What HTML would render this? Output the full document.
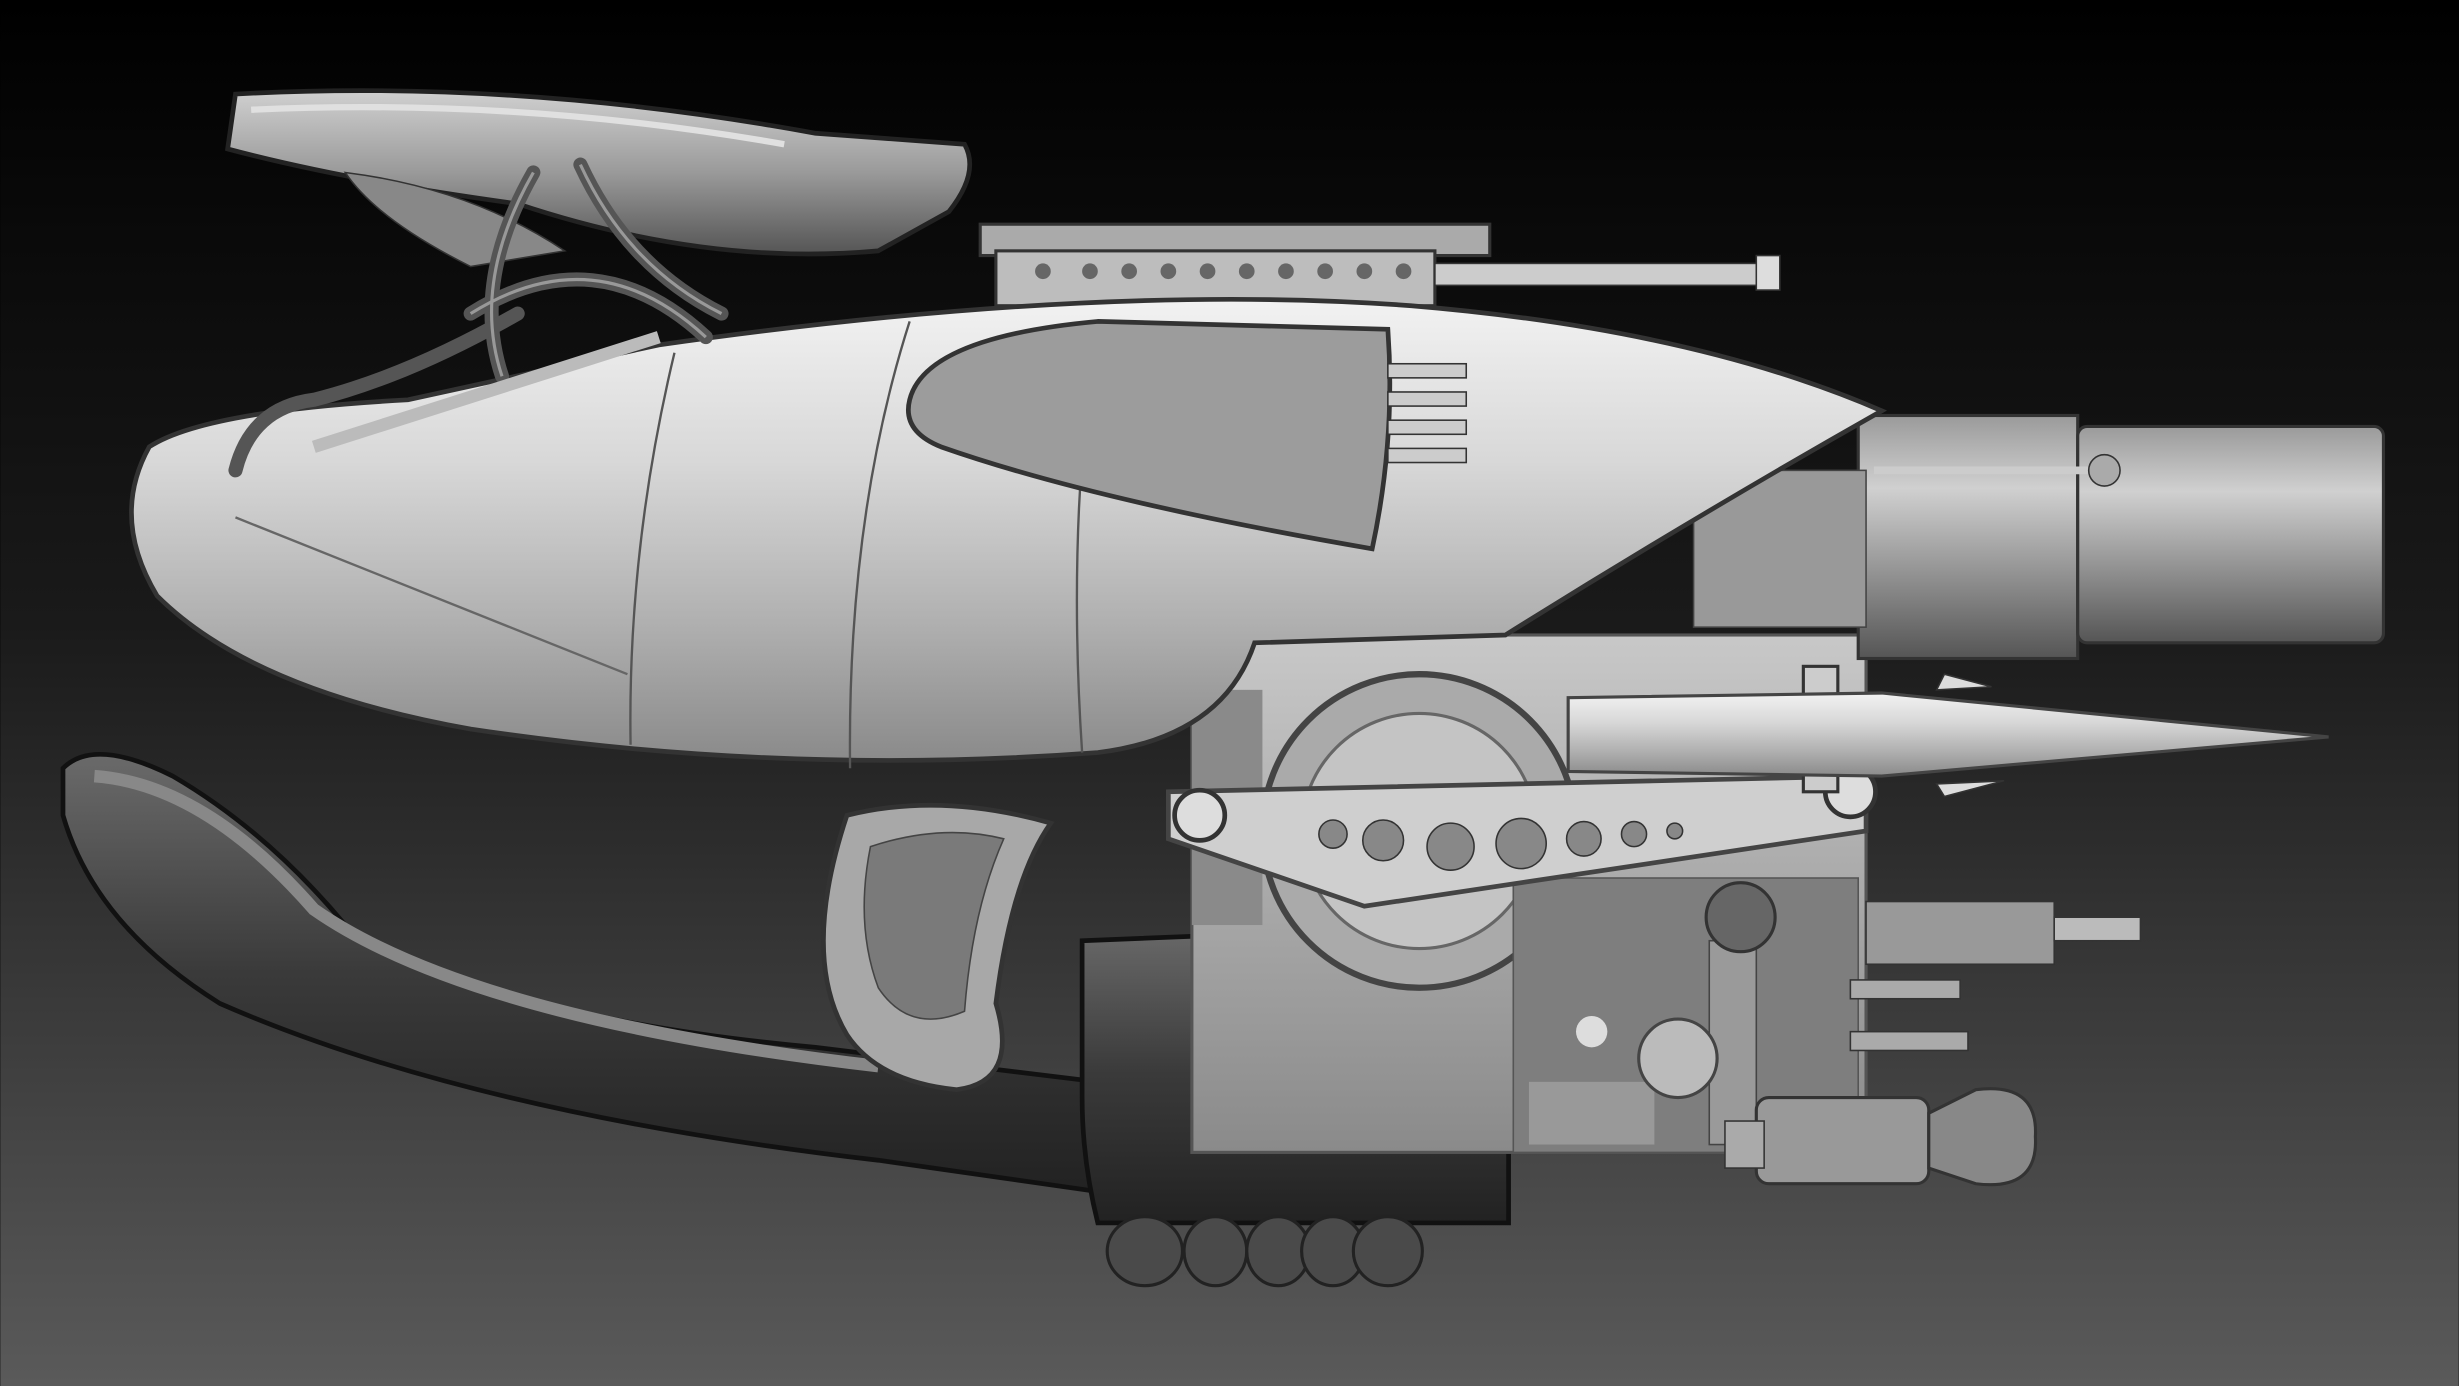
<!DOCTYPE html>
<html><head><meta charset="utf-8"><style>
html,body{margin:0;padding:0;background:#000;}
svg{display:block;}
</style></head><body>
<svg width="2459" height="1386" viewBox="0 0 1568 884" xmlns="http://www.w3.org/2000/svg">
<defs>
<linearGradient id="bg" x1="0" y1="0" x2="0" y2="1">
<stop offset="0" stop-color="#000"/><stop offset="0.45" stop-color="#1a1a1a"/><stop offset="1" stop-color="#5a5a5a"/></linearGradient>
<linearGradient id="body" x1="0" y1="0" x2="0" y2="1">
<stop offset="0" stop-color="#f2f2f2"/><stop offset="0.35" stop-color="#d8d8d8"/><stop offset="0.7" stop-color="#b0b0b0"/><stop offset="1" stop-color="#8a8a8a"/></linearGradient>
<linearGradient id="cyl" x1="0" y1="0" x2="0" y2="1">
<stop offset="0" stop-color="#9a9a9a"/><stop offset="0.3" stop-color="#d0d0d0"/><stop offset="0.7" stop-color="#8a8a8a"/><stop offset="1" stop-color="#555"/></linearGradient>
<linearGradient id="dark" x1="0" y1="0" x2="0" y2="1">
<stop offset="0" stop-color="#6a6a6a"/><stop offset="0.5" stop-color="#3a3a3a"/><stop offset="1" stop-color="#222"/></linearGradient>
<linearGradient id="seat" x1="0" y1="0" x2="0" y2="1">
<stop offset="0" stop-color="#d0d0d0"/><stop offset="0.5" stop-color="#9a9a9a"/><stop offset="1" stop-color="#555"/></linearGradient>
<linearGradient id="mech" x1="0" y1="0" x2="0" y2="1">
<stop offset="0" stop-color="#c8c8c8"/><stop offset="1" stop-color="#8a8a8a"/></linearGradient>
</defs>
<rect width="1568" height="884" fill="url(#bg)"/>

<path d="M40,490 Q60,470 110,495 Q170,530 220,590 Q320,650 520,668 L700,690 L700,760 L560,740 Q300,710 140,640 Q60,590 40,520 Z" fill="url(#dark)" stroke="#111" stroke-width="3"/>
<path d="M60,495 Q130,500 200,580 Q300,650 560,680" fill="none" stroke="#888" stroke-width="8"/>
<path d="M690,600 L940,590 Q962,592 962,615 L962,780 L700,780 Q690,740 690,700 Z" fill="url(#dark)" stroke="#111" stroke-width="3"/>
<g fill="#4a4a4a" stroke="#222" stroke-width="2">
<ellipse cx="730" cy="798" rx="24" ry="22"/><ellipse cx="775" cy="798" rx="20" ry="22"/><ellipse cx="815" cy="798" rx="20" ry="22"/><ellipse cx="850" cy="798" rx="20" ry="22"/><ellipse cx="885" cy="798" rx="22" ry="22"/></g>

<rect x="760" y="405" width="430" height="330" fill="url(#mech)" stroke="#555" stroke-width="2"/>
<rect x="760" y="440" width="45" height="150" fill="#8a8a8a"/>
<circle cx="905" cy="530" r="100" fill="#aaa" stroke="#444" stroke-width="4"/>
<circle cx="905" cy="530" r="75" fill="#c4c4c4" stroke="#666" stroke-width="2"/>
<rect x="965" y="560" width="220" height="175" fill="#7e7e7e" stroke="#555"/>
<rect x="975" y="690" width="80" height="40" fill="#999"/>
<rect x="1090" y="600" width="30" height="130" fill="#9a9a9a" stroke="#444"/>
<circle cx="1070" cy="675" r="25" fill="#bbb" stroke="#444" stroke-width="2"/>
<circle cx="1110" cy="585" r="22" fill="#666" stroke="#333" stroke-width="2"/>
<circle cx="1015" cy="658" r="10" fill="#ddd"/>
<path d="M745,505 L1190,495 L1190,530 L870,578 L745,535 Z" fill="#cfcfcf" stroke="#444" stroke-width="3"/>
<g fill="#888" stroke="#333"><circle cx="850" cy="532" r="9"/><circle cx="882" cy="536" r="13"/><circle cx="925" cy="540" r="15"/><circle cx="970" cy="538" r="16"/><circle cx="1010" cy="535" r="11"/><circle cx="1042" cy="532" r="8"/><circle cx="1068" cy="530" r="5"/></g>
<circle cx="765" cy="520" r="16" fill="#ddd" stroke="#333" stroke-width="3"/>
<circle cx="1180" cy="505" r="16" fill="#ddd" stroke="#333" stroke-width="3"/>
<rect x="1150" y="425" width="22" height="80" fill="#ccc" stroke="#333" stroke-width="2"/>

<path d="M1000,445 L1200,442 L1485,470 L1200,495 L1000,492 Z" fill="url(#body)" stroke="#444" stroke-width="2"/>
<path d="M1235,440 L1270,438 L1240,430 Z M1235,500 L1278,498 L1240,508 Z" fill="#ddd" stroke="#333"/>

<path d="M540,520 Q600,505 670,525 Q645,560 635,640 Q650,690 610,695 Q560,690 540,660 Q510,610 540,520 Z" fill="#a8a8a8" stroke="#333" stroke-width="3"/>
<path d="M555,540 Q600,525 640,535 Q620,580 615,645 Q580,660 560,630 Q545,590 555,540 Z" fill="#7a7a7a" stroke="#444"/>

<rect x="1185" y="265" width="140" height="155" fill="url(#cyl)" stroke="#333" stroke-width="2"/>
<rect x="1325" y="272" width="195" height="138" rx="6" fill="url(#cyl)" stroke="#333" stroke-width="2"/>
<rect x="1080" y="300" width="110" height="100" fill="#999" stroke="#444"/>
<line x1="1195" y1="300" x2="1340" y2="300" stroke="#ccc" stroke-width="5"/>
<circle cx="1342" cy="300" r="10" fill="#aaa" stroke="#333"/>

<rect x="625" y="143" width="325" height="20" fill="#aaa" stroke="#333" stroke-width="2"/>
<rect x="635" y="160" width="280" height="35" fill="#bdbdbd" stroke="#333" stroke-width="2"/>
<g fill="#666">
<circle cx="665" cy="173" r="5"/><circle cx="695" cy="173" r="5"/><circle cx="720" cy="173" r="5"/><circle cx="745" cy="173" r="5"/><circle cx="770" cy="173" r="5"/><circle cx="795" cy="173" r="5"/><circle cx="820" cy="173" r="5"/><circle cx="845" cy="173" r="5"/><circle cx="870" cy="173" r="5"/><circle cx="895" cy="173" r="5"/></g>
<rect x="915" y="168" width="210" height="14" fill="#ccc" stroke="#333"/>
<rect x="1120" y="163" width="15" height="22" fill="#ddd" stroke="#333"/>

<path d="M95,285 Q130,262 260,255 L420,220 Q700,180 900,195 Q1080,210 1200,262 Q1080,330 960,405 L800,410 Q780,470 700,480 Q500,495 300,465 Q160,440 100,380 Q70,330 95,285 Z" fill="url(#body)" stroke="#333" stroke-width="3"/>
<path d="M430,225 Q400,350 402,475 M580,205 Q540,330 542,490 M700,205 Q680,330 690,480" fill="none" stroke="#555" stroke-width="1.5"/>
<path d="M150,330 L400,430" stroke="#666" stroke-width="1.5"/>
<path d="M580,255 Q590,215 700,205 L885,210 Q890,280 875,350 Q700,320 600,285 Q575,275 580,255 Z" fill="#9c9c9c" stroke="#333" stroke-width="3"/>
<g fill="#ccc" stroke="#333"><rect x="885" y="232" width="50" height="9"/><rect x="885" y="250" width="50" height="9"/><rect x="885" y="268" width="50" height="9"/><rect x="885" y="286" width="50" height="9"/></g>

<path d="M150,60 Q330,50 520,85 L615,92 Q625,110 605,135 L560,160 Q450,170 330,130 Q220,115 145,95 Z" fill="url(#seat)" stroke="#222" stroke-width="3"/>
<path d="M160,70 Q330,62 500,92" fill="none" stroke="#e0e0e0" stroke-width="4"/>
<path d="M220,110 Q300,120 360,160 L300,170 Q240,140 220,110 Z" fill="#888" stroke="#333"/>
<g fill="none" stroke="#555" stroke-width="9" stroke-linecap="round">
<path d="M340,110 Q300,180 320,240"/><path d="M370,105 Q400,170 460,200"/><path d="M300,200 Q380,150 450,215"/><path d="M150,300 Q160,260 200,255 Q260,240 330,200"/></g>
<g fill="none" stroke="#999" stroke-width="2">
<path d="M340,110 Q300,180 320,240"/><path d="M370,105 Q400,170 460,200"/><path d="M300,200 Q380,150 450,215"/></g>
<path d="M200,285 L420,215" stroke="#bbb" stroke-width="8"/>

<rect x="1190" y="575" width="120" height="40" fill="#999" stroke="#333"/>
<rect x="1310" y="585" width="55" height="15" fill="#bbb" stroke="#333"/>
<rect x="1180" y="625" width="70" height="12" fill="#aaa" stroke="#333"/>
<rect x="1180" y="658" width="75" height="12" fill="#aaa" stroke="#333"/>
<rect x="1120" y="700" width="110" height="55" rx="8" fill="#999" stroke="#333" stroke-width="2"/>
<path d="M1230,710 L1260,695 Q1300,690 1298,725 Q1300,760 1260,755 L1230,745 Z" fill="#888" stroke="#333" stroke-width="2"/>
<rect x="1100" y="715" width="25" height="30" fill="#aaa" stroke="#333"/>
</svg>
</body></html>
